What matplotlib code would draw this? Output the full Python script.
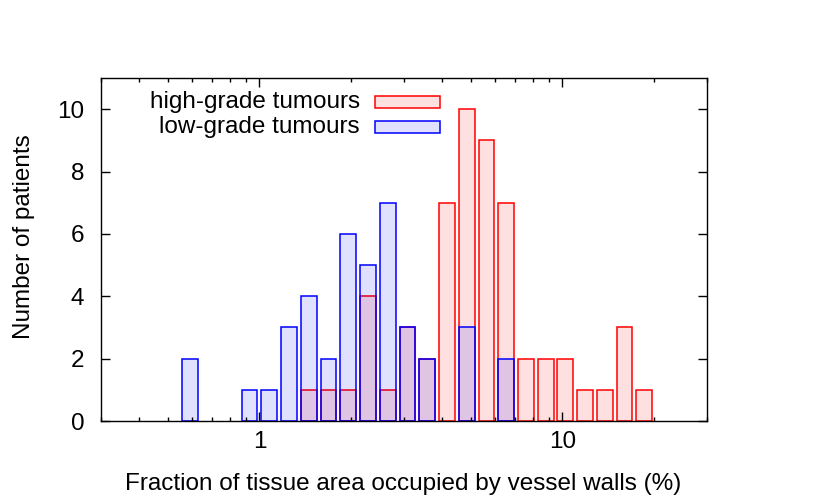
import numpy as np
import matplotlib
matplotlib.use("Agg")
import matplotlib.pyplot as plt
from matplotlib.patches import Rectangle
from matplotlib.ticker import FixedLocator, NullFormatter

plt.rcParams['font.family'] = ['Liberation Sans', 'DejaVu Sans']

# histogram bins: width 0.15 in ln(x), bin index k -> centre exp(0.15*(k+0.5))
bin_index = np.arange(-4, 20)
high_grade = [0, 0, 0, 0, 0, 0, 1, 1, 1, 4, 1, 3, 2, 7, 10, 9, 7, 2, 2, 2, 1, 1, 3, 1]
low_grade = [2, 0, 0, 1, 1, 3, 4, 2, 6, 5, 7, 3, 2, 0, 3, 0, 2, 0, 0, 0, 0, 0, 0, 0]
labels = ["high-grade tumours", "low-grade tumours"]
colors = ["#ff0000", "#0000ff"]

BIN = 0.15
FILL = 0.8
FS = 17.5

fig = plt.figure(figsize=(8.3, 4.98), dpi=100)
ax = fig.add_axes([101/830, 1-421/498, 606/830, 343/498])

left = np.exp(BIN * (bin_index + 0.5 - FILL/2))
width = left * (np.exp(BIN * FILL) - 1)

for counts, c in zip([high_grade, low_grade], colors):
    counts = np.array(counts)
    m = counts > 0
    ax.bar(left[m], counts[m], width=width[m], align='edge',
           facecolor=matplotlib.colors.to_rgba(c, 0.12), edgecolor=c,
           linewidth=1.1)

ax.set_xscale('log')
ax.set_xlim(0.3, 30)
ax.set_ylim(0, 11)
ax.xaxis.set_major_locator(FixedLocator([1, 10]))
ax.set_xticklabels(["1", "10"])
minors = [v * d for d in (0.1, 1, 10) for v in range(2, 10)]
ax.xaxis.set_minor_locator(FixedLocator(minors))
ax.xaxis.set_minor_formatter(NullFormatter())
ax.set_yticks([0, 2, 4, 6, 8, 10])

ax.tick_params(which='major', direction='in', length=6.5, width=1.0,
               top=True, right=True, labelsize=FS, color='black')
ax.tick_params(which='minor', direction='in', length=3.2, width=1.0,
               top=True, right=False, left=False)
ax.tick_params(axis='x', pad=7)
ax.tick_params(axis='y', pad=12)
for s in ax.spines.values():
    s.set_linewidth(1.0)

# legend, gnuplot style: text right aligned, sample box to the right
rows_y = [0.931, 0.858]
for lab, c, y in zip(labels, colors, rows_y):
    ax.text(0.427, y, lab, transform=ax.transAxes, ha='right', va='center',
            fontsize=FS)
    ax.add_patch(Rectangle((0.452, y - 0.0175), 0.107, 0.035,
                           transform=ax.transAxes,
                           facecolor=matplotlib.colors.to_rgba(c, 0.12),
                           edgecolor=c, linewidth=1.1))

fig.text(24/830, 1-237/498, "Number of patients", rotation=90,
         ha='center', va='center', fontsize=FS)
fig.text(403/830, 1-484/498,
         "Fraction of tissue area occupied by vessel walls (%)",
         ha='center', va='center', fontsize=FS)

fig.savefig("out.png", dpi=100)
